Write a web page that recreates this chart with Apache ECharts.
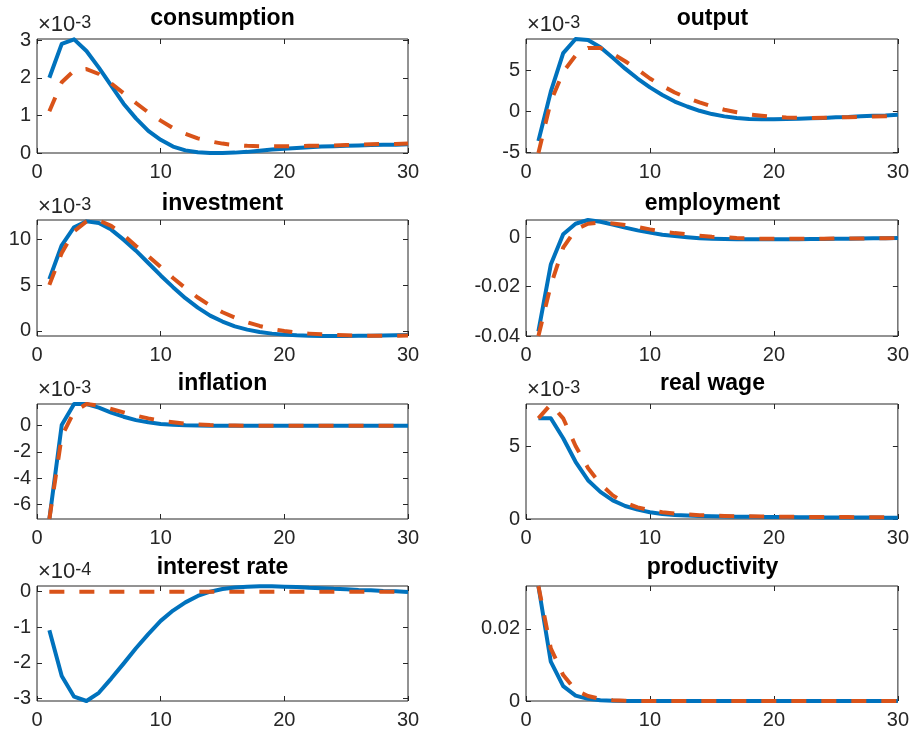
<!DOCTYPE html>
<html>
<head>
<meta charset="utf-8">
<script src="https://cdn.jsdelivr.net/npm/echarts@6/dist/echarts.min.js"></script>
<style>
  html, body { margin: 0; padding: 0; background: #ffffff; }
  #chart { width: 912px; height: 731px; }
</style>
</head>
<body>
<div id="chart"></div>
<script>
// Horizon (periods after the shock)
const periods = [1, 2, 3, 4, 5, 6, 7, 8, 9, 10, 11, 12, 13, 14, 15,
                 16, 17, 18, 19, 20, 21, 22, 23, 24, 25, 26, 27, 28, 29, 30];
const xTicks = [0, 10, 20, 30];

// consumption, units of 1e-3
const consumptionSolid = [2.00, 2.90, 3.02, 2.71, 2.27, 1.79, 1.31, 0.92, 0.59, 0.35,
                          0.17, 0.07, 0.02, 0.00, 0.00, 0.01, 0.03, 0.06, 0.09, 0.11,
                          0.13, 0.15, 0.17, 0.18, 0.19, 0.20, 0.21, 0.22, 0.22, 0.23];
const consumptionDashed = [1.11, 1.88, 2.19, 2.23, 2.10, 1.85, 1.59, 1.33, 1.08, 0.86,
                           0.66, 0.51, 0.39, 0.31, 0.25, 0.21, 0.19, 0.18, 0.18, 0.18,
                           0.18, 0.19, 0.19, 0.20, 0.21, 0.22, 0.23, 0.24, 0.24, 0.25];
const consumptionTicks = [0, 1, 2, 3];

// output, units of 1e-3
const outputSolid = [-3.60, 2.40, 7.08, 8.80, 8.68, 7.80, 6.52, 5.20, 4.00, 2.92,
                     2.00, 1.20, 0.60, 0.08, -0.32, -0.60, -0.80, -0.92, -0.96, -0.96,
                     -0.92, -0.88, -0.84, -0.80, -0.72, -0.68, -0.60, -0.52, -0.48, -0.40];
const outputDashed = [-5.05, 1.20, 4.80, 6.80, 7.70, 7.70, 7.00, 6.10, 5.10, 4.00,
                      3.10, 2.30, 1.65, 1.10, 0.60, 0.20, -0.10, -0.35, -0.52, -0.66,
                      -0.74, -0.78, -0.80, -0.78, -0.74, -0.70, -0.66, -0.62, -0.58, -0.54];
const outputTicks = [-5, 0, 5];

// investment, units of 1e-3
const investmentSolid = [5.68, 9.38, 11.36, 12.00, 11.83, 11.10, 10.00, 8.79, 7.44, 6.08,
                         4.80, 3.59, 2.56, 1.68, 1.03, 0.51, 0.15, -0.11, -0.29, -0.40,
                         -0.48, -0.51, -0.55, -0.55, -0.55, -0.52, -0.51, -0.49, -0.48, -0.45];
const investmentDashed = [5.05, 8.53, 10.90, 12.00, 12.10, 11.50, 10.50, 9.30, 8.20, 7.00,
                          5.80, 4.70, 3.66, 2.78, 2.05, 1.47, 0.95, 0.55, 0.22, 0.00,
                          -0.18, -0.29, -0.37, -0.44, -0.48, -0.51, -0.52, -0.52, -0.52, -0.50];
const investmentTicks = [0, 5, 10];

// employment
const employmentSolid = [-0.0381, -0.0111, 0.0011, 0.0054, 0.0069, 0.0062, 0.0051, 0.0038, 0.0027, 0.0018,
                         0.0009, 0.0004, -0.0001, -0.0005, -0.0007, -0.0008, -0.0009, -0.0009, -0.0009, -0.0009,
                         -0.0009, -0.0009, -0.0008, -0.0008, -0.0007, -0.0007, -0.0006, -0.0005, -0.0005, -0.0004];
const employmentDashed = [-0.0400, -0.0195, -0.0043, 0.0031, 0.0054, 0.0058, 0.0055, 0.0049, 0.0041, 0.0031,
                          0.0023, 0.0016, 0.0011, 0.0005, 0.0001, -0.0001, -0.0004, -0.0005, -0.0007, -0.0007,
                          -0.0007, -0.0007, -0.0007, -0.0007, -0.0006, -0.0006, -0.0006, -0.0005, -0.0005, -0.0004];
const employmentTicks = [-0.04, -0.02, 0];

// inflation, units of 1e-3
const inflationSolid = [-7.12, 0.05, 1.66, 1.66, 1.38, 1.00, 0.69, 0.43, 0.26, 0.13,
                        0.08, 0.03, 0.01, 0.00, 0.00, 0.00, 0.00, 0.00, 0.00, 0.00,
                        0.00, 0.00, 0.00, 0.00, 0.00, 0.00, 0.00, 0.00, 0.00, 0.00];
const inflationDashed = [-7.12, -0.80, 1.07, 1.66, 1.53, 1.28, 1.02, 0.77, 0.56, 0.38,
                         0.26, 0.15, 0.10, 0.05, 0.03, 0.01, 0.00, 0.00, 0.00, 0.00,
                         0.00, 0.00, 0.00, 0.00, 0.00, 0.00, 0.00, 0.00, 0.00, 0.00];
const inflationTicks = [-6, -4, -2, 0];

// real wage, units of 1e-3
const realWageSolid = [6.90, 6.90, 5.53, 3.92, 2.66, 1.86, 1.28, 0.89, 0.64, 0.46,
                       0.34, 0.28, 0.24, 0.21, 0.19, 0.17, 0.16, 0.15, 0.14, 0.13,
                       0.13, 0.12, 0.12, 0.11, 0.11, 0.10, 0.10, 0.10, 0.09, 0.09];
const realWageDashed = [6.90, 7.86, 6.90, 5.00, 3.50, 2.40, 1.62, 1.10, 0.80, 0.60,
                        0.46, 0.37, 0.31, 0.26, 0.23, 0.21, 0.19, 0.18, 0.17, 0.16,
                        0.15, 0.15, 0.14, 0.14, 0.13, 0.13, 0.12, 0.12, 0.12, 0.11];
const realWageTicks = [0, 5];

// interest rate, units of 1e-4
const interestSolid = [-1.08, -2.37, -2.95, -3.07, -2.84, -2.44, -2.02, -1.59, -1.19, -0.82,
                       -0.53, -0.30, -0.12, 0.00, 0.075, 0.12, 0.14, 0.15, 0.15, 0.14,
                       0.13, 0.11, 0.10, 0.08, 0.07, 0.05, 0.04, 0.02, 0.01, -0.01];
const interestDashed = [0, 0, 0, 0, 0, 0, 0, 0, 0, 0,
                        0, 0, 0, 0, 0, 0, 0, 0, 0, 0,
                        0, 0, 0, 0, 0, 0, 0, 0, 0, 0];
const interestTicks = [-3, -2, -1, 0];

// productivity
const productivitySolid = [0.0319, 0.0109, 0.0041, 0.0015, 0.0006, 0.0002, 0.0001, 0, 0, 0,
                           0, 0, 0, 0, 0, 0, 0, 0, 0, 0,
                           0, 0, 0, 0, 0, 0, 0, 0, 0, 0];
const productivityDashed = [0.0319, 0.0146, 0.0072, 0.0030, 0.0014, 0.0006, 0.0002, 0.0001, 0, 0,
                            0, 0, 0, 0, 0, 0, 0, 0, 0, 0,
                            0, 0, 0, 0, 0, 0, 0, 0, 0, 0];
const productivityTicks = [0, 0.02];

// Panel contents, row by row (left, right)
const panels = [
  { title: 'consumption',   solid: consumptionSolid,  dashed: consumptionDashed,  ticks: consumptionTicks,  range: [0, 3.03],        exponent: '-3' },
  { title: 'output',        solid: outputSolid,       dashed: outputDashed,       ticks: outputTicks,       range: [-5.05, 8.8],     exponent: '-3' },
  { title: 'investment',    solid: investmentSolid,   dashed: investmentDashed,   ticks: investmentTicks,   range: [-0.55, 12.15],   exponent: '-3' },
  { title: 'employment',    solid: employmentSolid,   dashed: employmentDashed,   ticks: employmentTicks,   range: [-0.0400, 0.0069], exponent: null },
  { title: 'inflation',     solid: inflationSolid,    dashed: inflationDashed,    ticks: inflationTicks,    range: [-7.12, 1.66],    exponent: '-3' },
  { title: 'real wage',     solid: realWageSolid,     dashed: realWageDashed,     ticks: realWageTicks,     range: [0, 7.88],        exponent: '-3' },
  { title: 'interest rate', solid: interestSolid,     dashed: interestDashed,     ticks: interestTicks,     range: [-3.07, 0.16],    exponent: '-4' },
  { title: 'productivity',  solid: productivitySolid, dashed: productivityDashed, ticks: productivityTicks, range: [0, 0.0319],     exponent: null }
];

// Axes-box layout
const colLeft = [37, 526];
const colWidth = [371, 373];
const rowTop = [39, 220, 404, 586];
const rowHeight = [114, 116, 115, 115];
const titleBaseline = [27, 212, 392, 576];
const exponentBaseline = [33, 215, 398, 580];

const INK = '#262626';
const FONT = '"Liberation Sans", Arial, Helvetica, sans-serif';
const TICK_FONT = 20;
const TITLE_FONT = 23;
const MULT_FONT = 22;
const EXP_FONT = 18;

const grids = [], xAxes = [], yAxes = [], series = [], graphics = [];

function fmt(v) {
  const r = Math.round(v * 1e6) / 1e6;
  return String(r);
}

panels.forEach((p, i) => {
  const col = i % 2, row = Math.floor(i / 2);
  const left = colLeft[col], top = rowTop[row], width = colWidth[col], height = rowHeight[row];
  grids.push({
    left: left, top: top, width: width, height: height,
    show: true, borderColor: INK, borderWidth: 1, backgroundColor: 'transparent'
  });

  const tickStyle = { show: true, inside: true, length: 5, lineStyle: { color: INK, width: 1 } };

  ['bottom', 'top'].forEach((pos) => {
    xAxes.push({
      gridIndex: i, type: 'value', position: pos, min: 0, max: 30, interval: 10,
      axisLine: { show: false, onZero: false },
      axisTick: Object.assign({ customValues: xTicks }, tickStyle),
      axisLabel: {
        show: pos === 'bottom', customValues: xTicks, color: INK,
        fontSize: TICK_FONT, fontFamily: FONT, margin: 9
      },
      splitLine: { show: false }
    });
  });

  ['left', 'right'].forEach((pos) => {
    yAxes.push({
      gridIndex: i, type: 'value', position: pos, min: p.range[0], max: p.range[1],
      axisLine: { show: false, onZero: false },
      axisTick: Object.assign({ customValues: p.ticks }, tickStyle),
      axisLabel: {
        show: pos === 'left', customValues: p.ticks, color: INK,
        fontSize: TICK_FONT, fontFamily: FONT, margin: 6,
        formatter: fmt
      },
      splitLine: { show: false }
    });
  });

  series.push({
    type: 'line', xAxisIndex: 2 * i, yAxisIndex: 2 * i,
    data: periods.map((t, k) => [t, p.solid[k]]),
    symbol: 'none', clip: true, animation: false,
    lineStyle: { color: '#0072BD', width: 4, join: 'round' }
  });
  series.push({
    type: 'line', xAxisIndex: 2 * i, yAxisIndex: 2 * i,
    data: periods.map((t, k) => [t, p.dashed[k]]),
    symbol: 'none', clip: true, animation: false,
    lineStyle: { color: '#D95319', width: 4, type: [15, 15], cap: 'butt', join: 'round' }
  });

  // panel title (bold, centred over the box)
  graphics.push({
    type: 'text',
    x: left + width / 2, y: titleBaseline[row] - 0.3465 * TITLE_FONT,
    style: {
      text: p.title, fill: '#000000', align: 'center', verticalAlign: 'middle',
      font: 'bold ' + TITLE_FONT + 'px ' + FONT
    },
    silent: true
  });

  // axis multiplier label
  if (p.exponent) {
    graphics.push({
      type: 'text', x: left + 1, y: exponentBaseline[row] - 0.3465 * MULT_FONT,
      style: {
        text: '×10', fill: INK, align: 'left', verticalAlign: 'middle',
        font: MULT_FONT + 'px ' + FONT
      },
      silent: true
    });
    graphics.push({
      type: 'text', x: left + 1 + 1.696 * MULT_FONT, y: exponentBaseline[row] - 4 - 0.3465 * EXP_FONT,
      style: {
        text: p.exponent, fill: INK, align: 'left', verticalAlign: 'middle',
        font: EXP_FONT + 'px ' + FONT
      },
      silent: true
    });
  }
});

const chart = echarts.init(document.getElementById('chart'), null, { renderer: 'canvas' });
chart.setOption({
  animation: false,
  backgroundColor: '#ffffff',
  grid: grids,
  xAxis: xAxes,
  yAxis: yAxes,
  series: series,
  graphic: { elements: graphics }
});
</script>
</body>
</html>
